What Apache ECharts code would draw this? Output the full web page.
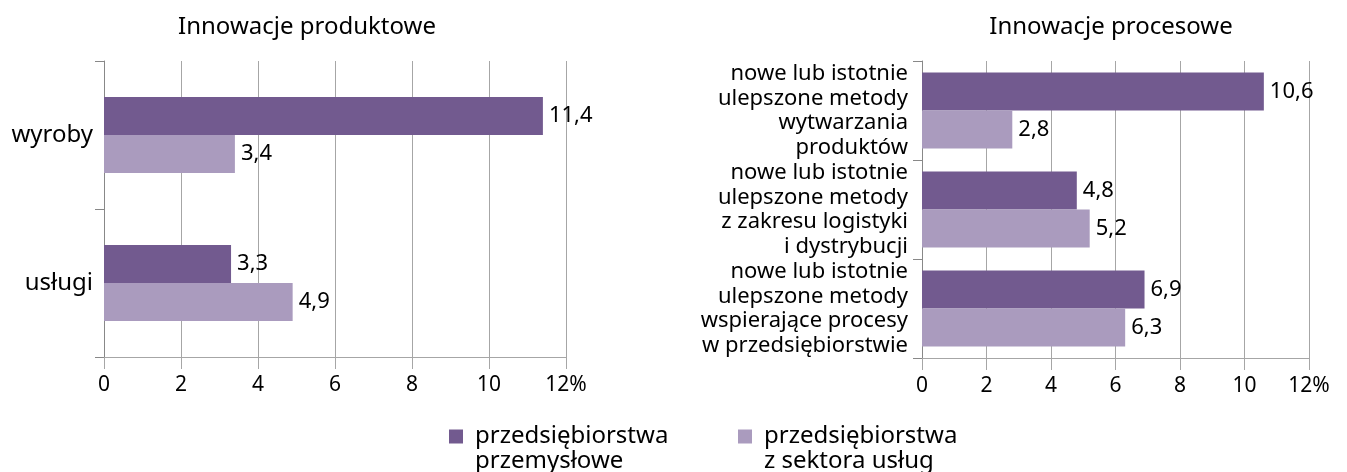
<!DOCTYPE html>
<html>
<head>
<meta charset="utf-8">
<script src="https://cdn.jsdelivr.net/npm/echarts@6/dist/echarts.min.js"></script>
<style>
    html, body { margin: 0; padding: 0; background: #fff; }
    #chart { width: 1347px; height: 472px; }
</style>
</head>
<body>
<div id="chart"></div>
<script>
// data
var prodCategories = ['wyroby', 'usługi'];
var prodIndustry = [11.4, 3.3];
var prodServices = [3.4, 4.9];

var procCategories = [
    'nowe lub istotnie\nulepszone metody\nwytwarzania\nproduktów',
    'nowe lub istotnie\nulepszone metody\nz zakresu logistyki\ni dystrybucji',
    'nowe lub istotnie\nulepszone metody\nwspierające procesy\nw przedsiębiorstwie'
];
var procIndustry = [10.6, 4.8, 6.9];
var procServices = [2.8, 5.2, 6.3];

var seriesNames = ['przedsiębiorstwa\nprzemysłowe', 'przedsiębiorstwa\nz sektora usług'];
var xTicks = [0, 2, 4, 6, 8, 10, 12];

!function(win){
    var font = 'Noto Sans';
    var dark = '#725a8f';
    var light = '#aa9bbe';
    var gridColor = '#a6a6a6';

    function fmt(v){
        return v.toFixed(1).replace('.', ',');
    }

    function valueAxis(idx){
        return {
            type: 'value',
            gridIndex: idx,
            min: xTicks[0],
            max: xTicks[xTicks.length - 1],
            interval: 2,
            axisLine: { show: true, lineStyle: { color: gridColor } },
            axisTick: { show: true, length: 12, lineStyle: { color: gridColor } },
            splitLine: { show: true, lineStyle: { color: gridColor } },
            axisLabel: {
                color: '#000',
                fontFamily: font,
                fontSize: 21,
                margin: 18,
                formatter: function(v){
                    return v === 12 ? '12%' : String(v);
                }
            }
        };
    }

    function catAxis(idx, cats, size, margin){
        return {
            type: 'category',
            gridIndex: idx,
            data: cats,
            inverse: true,
            axisLine: { show: true, lineStyle: { color: '#888' } },
            axisTick: { show: true, length: 9, lineStyle: { color: '#888' } },
            axisLabel: {
                color: '#000',
                fontFamily: font,
                fontSize: size,
                lineHeight: 24.5,
                align: 'right',
                margin: margin
            }
        };
    }

    function bar(name, idx, data, color){
        return {
            name: name,
            type: 'bar',
            xAxisIndex: idx,
            yAxisIndex: idx,
            data: data,
            barWidth: 38,
            barGap: '0%',
            itemStyle: { color: color },
            label: {
                show: true,
                position: 'right',
                distance: 6,
                color: '#000',
                fontFamily: font,
                fontSize: 22,
                formatter: function(p){ return fmt(p.value); }
            }
        };
    }

    // blank first line keeps the square level with the first text line
    function legend(name, left){
        return {
            data: [name],
            left: left,
            top: 394,
            icon: 'rect',
            itemWidth: 14,
            itemHeight: 14,
            formatter: function(n){ return ' \n' + n; },
            textStyle: {
                fontFamily: font, fontSize: 24, color: '#000',
                lineHeight: 25, padding: [0, 0, 0, 7]
            }
        };
    }

    var titleStyle = { fontFamily: font, fontSize: 24, fontWeight: 'normal', color: '#000' };

    var chart = echarts.init(document.getElementById('chart'));
    chart.setOption({
        animation: false,
        textStyle: { fontFamily: font },
        title: [
            { text: 'Innowacje produktowe', left: 302, top: 10, textAlign: 'center', textStyle: titleStyle },
            { text: 'Innowacje procesowe', left: 1106, top: 10, textAlign: 'center', textStyle: titleStyle }
        ],
        legend: [legend(seriesNames[0], 444), legend(seriesNames[1], 733)],
        grid: [
            { left: 104, right: 781, top: 61, bottom: 115 },
            { left: 922, right: 38, top: 61, bottom: 114 }
        ],
        xAxis: [valueAxis(0), valueAxis(1)],
        yAxis: [catAxis(0, prodCategories, 24, 11), catAxis(1, procCategories, 22, 14)],
        series: [
            bar(seriesNames[0], 0, prodIndustry, dark),
            bar(seriesNames[1], 0, prodServices, light),
            bar(seriesNames[0], 1, procIndustry, dark),
            bar(seriesNames[1], 1, procServices, light)
        ]
    });
}(window);
</script>
</body>
</html>
